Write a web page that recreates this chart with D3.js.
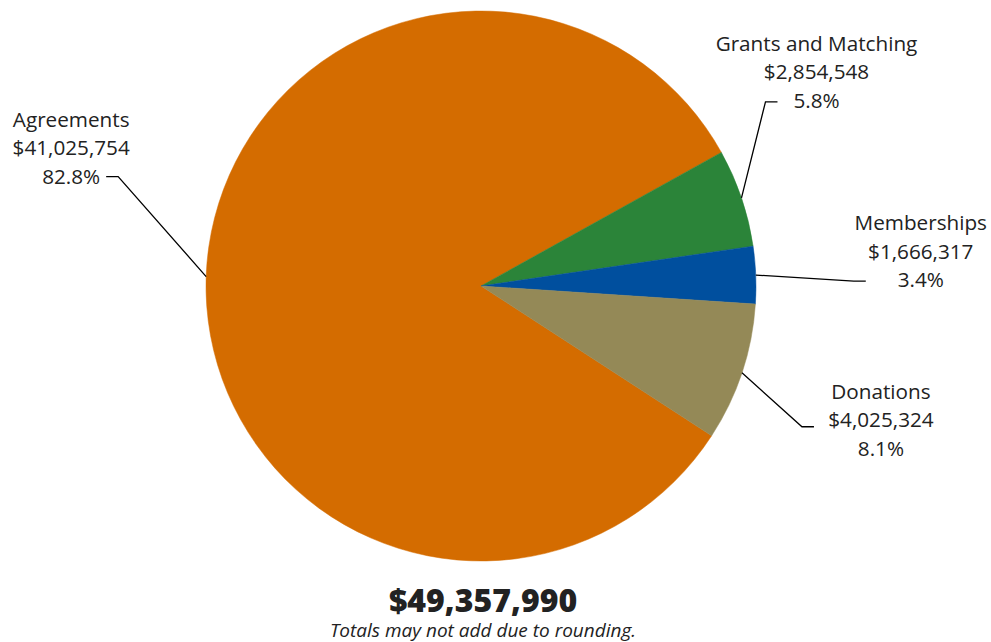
<!DOCTYPE html>
<html>
<head>
<meta charset="utf-8">
<script src="https://cdn.jsdelivr.net/npm/d3@7/dist/d3.min.js"></script>
<style>
  body { margin: 0; background: #fff; }
  text { font-family: "Open Sans", sans-serif; fill: #222; }
</style>
</head>
<body>
<div id="main"></div>
<script>
// ===================== data =====================
const categories = ['Agreements', 'Grants and Matching', 'Memberships', 'Donations'];
const amounts = [41025754, 2854548, 1666317, 4025324];
const percents = ['82.8%', '5.8%', '3.4%', '8.1%'];
const totalLabel = '$49,357,990';
const noteLabel = 'Totals may not add due to rounding.';

// ===================== style / layout =====================
const colors = ['#d46c00', '#2b8439', '#004f9e', '#948957'];
const width = 991, height = 642;
const cx = 481, cy = 286, radius = 275;
const startDeg = 123;
const lineH = 28.5;

// label placement: anchor offset from slice edge, text offset from anchor
const labelLayout = [
	{ax: -100, ay: -100, tx: -35, ty: -58},
	{ax: 36, ay: -96, tx: 39, ty: -59},
	{ax: 110, ay: 6, tx: 55, ty: -59},
	{ax: 72, ay: 54, tx: 67, ty: -36}
];

const fmt = d3.format('$,');

const svg = d3.select('#main').append('svg')
	.attr('width', width)
	.attr('height', height);

const rows = categories.map((c, i) => ({name: c, value: amounts[i], pct: percents[i], i: i}));

const start = startDeg * Math.PI / 180;
const pie = d3.pie()
	.sort(null)
	.value(d => d.value)
	.startAngle(start)
	.endAngle(start + 2 * Math.PI);

const arc = d3.arc().innerRadius(0).outerRadius(radius);
const edgeArc = d3.arc().innerRadius(radius).outerRadius(radius);

const g = svg.append('g').attr('transform', 'translate(' + cx + ',' + cy + ')');

const arcs = pie(rows);

g.selectAll('path.slice')
	.data(arcs)
	.enter()
	.append('path')
	.attr('class', 'slice')
	.attr('d', arc)
	.attr('fill', d => colors[d.data.i])
	.attr('stroke', d => colors[d.data.i])
	.attr('stroke-width', 0.5);

// connectors + labels
arcs.forEach(function(d){
	const lay = labelLayout[d.data.i];
	const p = edgeArc.centroid(d);
	const ax = p[0] + lay.ax, ay = p[1] + lay.ay;
	const side = lay.ax < 0 ? -1 : 1;
	const pts = [[p[0], p[1]], [ax - side * 12, ay], [ax, ay]];
	g.append('path')
		.attr('d', d3.line()(pts))
		.attr('fill', 'none')
		.attr('stroke', '#000')
		.attr('stroke-width', 1.3);

	const lines = [d.data.name, fmt(d.data.value), d.data.pct];
	const t = g.append('text')
		.attr('text-anchor', 'middle')
		.style('font-size', '20.7px');
	lines.forEach(function(s, k){
		t.append('tspan')
			.attr('x', ax + lay.tx)
			.attr('y', ay + lay.ty + k * lineH)
			.attr('dominant-baseline', 'central')
			.text(s);
	});
});

// total
svg.append('text')
	.attr('x', cx + 2)
	.attr('y', 599)
	.attr('text-anchor', 'middle')
	.attr('dominant-baseline', 'central')
	.style('font-size', '32px')
	.style('font-weight', 800)
	.text(totalLabel);

svg.append('text')
	.attr('x', cx + 2)
	.attr('y', 630)
	.attr('text-anchor', 'middle')
	.attr('dominant-baseline', 'central')
	.style('font-size', '19px')
	.style('font-style', 'italic')
	.text(noteLabel);
</script>
</body>
</html>
